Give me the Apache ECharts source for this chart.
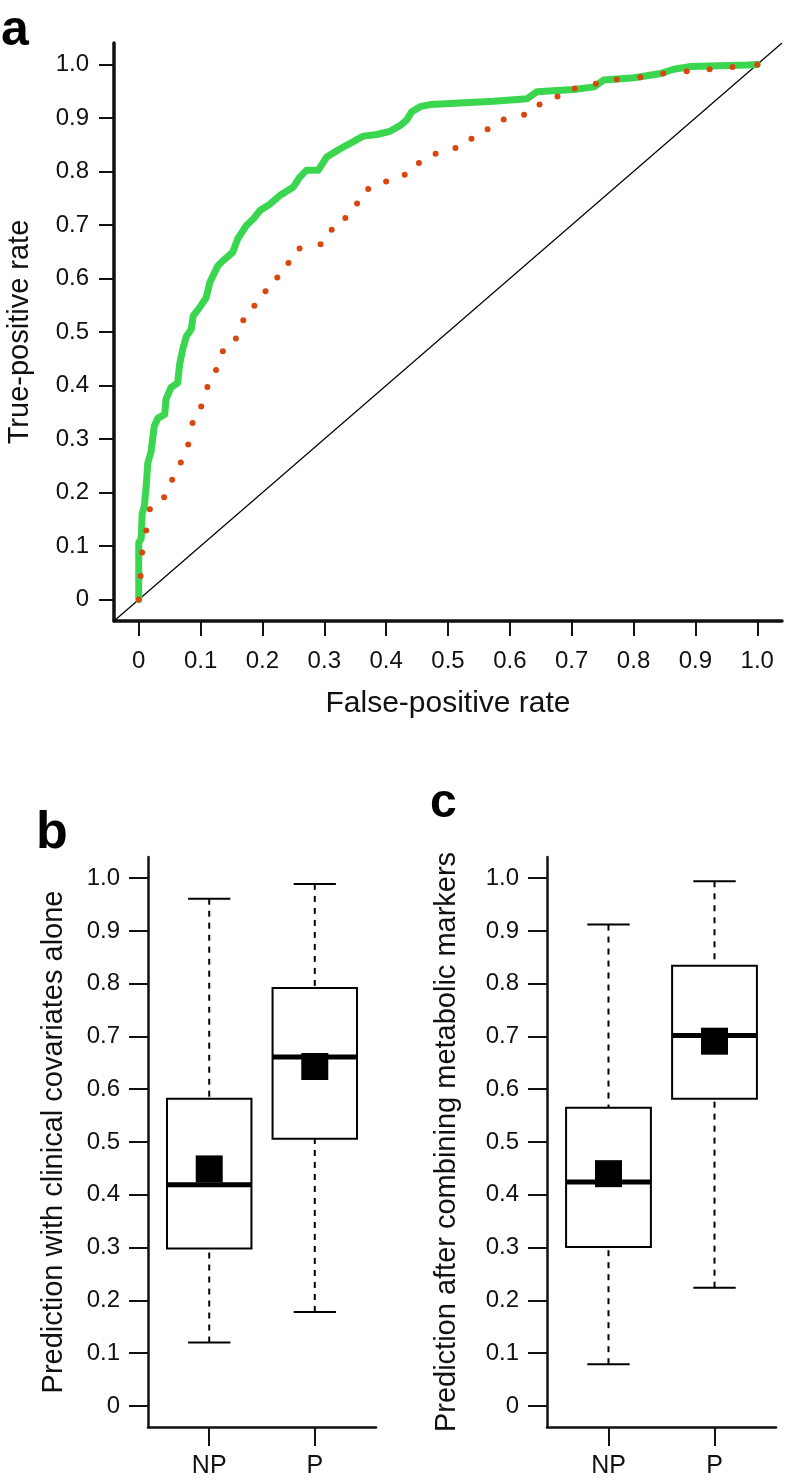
<!DOCTYPE html>
<html>
<head>
<meta charset="utf-8">
<script src="https://cdn.jsdelivr.net/npm/echarts@6/dist/echarts.min.js"></script>
<style>
  html, body { margin: 0; padding: 0; background: #fff; }
  #chart { width: 786px; height: 1482px; }
</style>
</head>
<body>
<div id="chart"></div>
<script>
// ROC (panel a)
const rocTicks = [0, 0.1, 0.2, 0.3, 0.4, 0.5, 0.6, 0.7, 0.8, 0.9, 1.0];
const rocTickLabels = ['0', '0.1', '0.2', '0.3', '0.4', '0.5', '0.6', '0.7', '0.8', '0.9', '1.0'];

const greenFpr = [0, 0, 0.004, 0.0055, 0.009, 0.012, 0.0146, 0.020, 0.025, 0.031, 0.042, 0.044, 0.052, 0.063,
  0.066, 0.071, 0.077, 0.085, 0.088, 0.098, 0.109, 0.115, 0.128, 0.136, 0.152, 0.160, 0.174, 0.185, 0.196,
  0.212, 0.228, 0.250, 0.260, 0.271, 0.290, 0.304, 0.325, 0.341, 0.363, 0.385, 0.406, 0.423, 0.433, 0.441,
  0.455, 0.471, 0.504, 0.574, 0.628, 0.644, 0.703, 0.736, 0.752, 0.801, 0.844, 0.865, 0.893, 0.984, 1];
const greenTpr = [0, 0.106, 0.114, 0.161, 0.174, 0.211, 0.255, 0.277, 0.324, 0.339, 0.346, 0.374, 0.396, 0.405,
  0.439, 0.467, 0.492, 0.505, 0.530, 0.545, 0.564, 0.593, 0.624, 0.633, 0.649, 0.674, 0.699, 0.711, 0.727,
  0.739, 0.755, 0.771, 0.789, 0.802, 0.802, 0.827, 0.842, 0.852, 0.866, 0.869, 0.875, 0.886, 0.896, 0.911,
  0.921, 0.925, 0.927, 0.931, 0.936, 0.949, 0.953, 0.958, 0.971, 0.975, 0.983, 0.991, 0.996, 0.999, 1];

const orangeFpr = [0, 0.003, 0.0055, 0.012, 0.018, 0.041, 0.054, 0.068, 0.080, 0.087, 0.101, 0.111, 0.125,
  0.136, 0.157, 0.169, 0.187, 0.205, 0.224, 0.242, 0.260, 0.294, 0.312, 0.334, 0.353, 0.371, 0.400, 0.430,
  0.453, 0.480, 0.512, 0.538, 0.564, 0.590, 0.623, 0.648, 0.677, 0.705, 0.739, 0.773, 0.811, 0.848, 0.886,
  0.923, 0.960, 1];
const orangeTpr = [0, 0.044, 0.088, 0.129, 0.169, 0.191, 0.224, 0.256, 0.290, 0.330, 0.361, 0.397, 0.429,
  0.464, 0.488, 0.522, 0.549, 0.576, 0.602, 0.629, 0.656, 0.664, 0.691, 0.713, 0.740, 0.767, 0.781, 0.794,
  0.816, 0.833, 0.844, 0.861, 0.879, 0.897, 0.906, 0.925, 0.940, 0.955, 0.964, 0.972, 0.976, 0.983, 0.987,
  0.991, 0.995, 1];

// Box plots (panels b, c): [lower whisker, Q1, median, Q3, upper whisker]
const boxCats = ['NP', 'P'];
const boxTicks = [0, 0.1, 0.2, 0.3, 0.4, 0.5, 0.6, 0.7, 0.8, 0.9, 1.0];
const clinicalStats = [[0.120, 0.298, 0.419, 0.582, 0.961], [0.178, 0.506, 0.661, 0.792, 0.989]];
const clinicalMeans = [0.449, 0.643];
const combinedStats = [[0.079, 0.301, 0.424, 0.565, 0.912], [0.224, 0.582, 0.702, 0.834, 0.994]];
const combinedMeans = [0.440, 0.691];
const combinedOutliers = [[2, 0.137]];

const FONT = '"Liberation Sans", Arial, Helvetica, sans-serif';
const GREEN = '#3bd650';
const ORANGE = '#d9470f';

const zip = (a, b) => a.map((v, i) => [v, b[i]]);
const tickLabel = v => v === 0 ? '0' : v.toFixed(1);

function renderBox(params, api) {
  const x = api.value(0);
  const half = 0.4, capHalf = 0.2;
  const lo = api.coord([x, api.value(1)]);
  const q1 = api.coord([x, api.value(2)]);
  const med = api.coord([x, api.value(3)]);
  const q3 = api.coord([x, api.value(4)]);
  const hi = api.coord([x, api.value(5)]);
  const left = api.coord([x - half, 0])[0];
  const right = api.coord([x + half, 0])[0];
  const capL = api.coord([x - capHalf, 0])[0];
  const capR = api.coord([x + capHalf, 0])[0];
  const dash = { stroke: '#000', lineWidth: 2, lineDash: [6, 6], fill: null };
  const solid = { stroke: '#000', lineWidth: 2, fill: null };
  return {
    type: 'group',
    children: [
      { type: 'line', shape: { x1: hi[0], y1: hi[1], x2: q3[0], y2: q3[1] }, style: dash },
      { type: 'line', shape: { x1: lo[0], y1: lo[1], x2: q1[0], y2: q1[1] }, style: dash },
      { type: 'line', shape: { x1: capL, y1: hi[1], x2: capR, y2: hi[1] }, style: solid },
      { type: 'line', shape: { x1: capL, y1: lo[1], x2: capR, y2: lo[1] }, style: solid },
      { type: 'rect', shape: { x: left, y: q3[1], width: right - left, height: q1[1] - q3[1] },
        style: { stroke: '#000', lineWidth: 2, fill: '#fff' } },
      { type: 'line', shape: { x1: left, y1: med[1], x2: right, y2: med[1] },
        style: { stroke: '#000', lineWidth: 5 } }
    ]
  };
}

function boxYAxis(idx, name, gap) {
  return {
    type: 'value', gridIndex: idx, min: -0.04, max: 1.04,
    name: name, nameLocation: 'middle', nameGap: gap, nameRotate: 90,
    nameTextStyle: { fontFamily: FONT, fontSize: 29, color: '#111' },
    axisLine: { show: true, onZero: false, lineStyle: { color: '#111', width: 2.5 } },
    axisTick: { show: true, length: 19, customValues: boxTicks, lineStyle: { color: '#111', width: 2 } },
    axisLabel: { customValues: boxTicks, formatter: tickLabel, margin: 28,
      fontFamily: FONT, fontSize: 24, color: '#111' },
    splitLine: { show: false }
  };
}

function boxXAxis(idx) {
  return {
    type: 'value', gridIndex: idx, min: 0.42, max: 2.58,
    axisLine: { show: true, onZero: false, lineStyle: { color: '#111', width: 2.5 } },
    axisTick: { show: true, length: 19, customValues: [1, 2], lineStyle: { color: '#111', width: 2 } },
    axisLabel: { customValues: [1, 2], formatter: v => boxCats[Math.round(v) - 1], margin: 27,
      fontFamily: FONT, fontSize: 25, color: '#111' },
    splitLine: { show: false }
  };
}

const chart = echarts.init(document.getElementById('chart'), null, { renderer: 'canvas' });

chart.setOption({
  animation: false,
  backgroundColor: '#fff',
  graphic: [
    { type: 'text', left: 1, top: 6, style: { text: 'a', font: 'bold 50px ' + FONT, fill: '#000' } },
    { type: 'text', left: 36, top: 808, style: { text: 'b', font: 'bold 52px ' + FONT, fill: '#000' } },
    { type: 'text', left: 430, top: 780, style: { text: 'c', font: 'bold 48px ' + FONT, fill: '#000' } }
  ],
  grid: [
    { left: 114, top: 43, width: 668, height: 578, outerBoundsMode: 'none' },
    { left: 148, top: 857, width: 228, height: 570, outerBoundsMode: 'none' },
    { left: 547, top: 857, width: 229, height: 570, outerBoundsMode: 'none' }
  ],
  xAxis: [
    {
      type: 'value', gridIndex: 0, min: -0.04, max: 1.04,
      name: 'False-positive rate', nameLocation: 'middle', nameGap: 68,
      nameTextStyle: { fontFamily: FONT, fontSize: 30, color: '#111' },
      axisLine: { show: true, onZero: false, lineStyle: { color: '#111', width: 3.5 } },
      axisTick: { show: true, length: 15, customValues: rocTicks, lineStyle: { color: '#111', width: 2 } },
      axisLabel: { customValues: rocTicks, formatter: v => rocTickLabels[Math.round(v * 10)], margin: 28,
        fontFamily: FONT, fontSize: 24, color: '#111' },
      splitLine: { show: false }
    },
    boxXAxis(1),
    boxXAxis(2)
  ],
  yAxis: [
    {
      type: 'value', gridIndex: 0, min: -0.04, max: 1.04,
      name: 'True-positive rate', nameLocation: 'middle', nameGap: 80, nameRotate: 90,
      nameTextStyle: { fontFamily: FONT, fontSize: 29, color: '#111' },
      axisLine: { show: true, onZero: false, lineStyle: { color: '#111', width: 3.5 } },
      axisTick: { show: true, length: 15, customValues: rocTicks, lineStyle: { color: '#111', width: 2 } },
      axisLabel: { customValues: rocTicks, formatter: v => rocTickLabels[Math.round(v * 10)], margin: 25,
        fontFamily: FONT, fontSize: 24, color: '#111' },
      splitLine: { show: false }
    },
    boxYAxis(1, 'Prediction with clinical covariates alone', 80),
    boxYAxis(2, 'Prediction after combining metabolic markers', 86)
  ],
  series: [
    {
      type: 'line', xAxisIndex: 0, yAxisIndex: 0, data: [[-0.04, -0.04], [1.04, 1.04]],
      showSymbol: false, lineStyle: { color: '#000', width: 1.2 }, z: 1
    },
    {
      type: 'line', xAxisIndex: 0, yAxisIndex: 0, data: zip(greenFpr, greenTpr),
      showSymbol: false, lineStyle: { color: GREEN, width: 7, join: 'round', cap: 'round' }, z: 2
    },
    {
      type: 'scatter', xAxisIndex: 0, yAxisIndex: 0, data: zip(orangeFpr, orangeTpr),
      symbolSize: 6, itemStyle: { color: ORANGE, opacity: 1 }, z: 3
    },
    {
      type: 'custom', xAxisIndex: 1, yAxisIndex: 1, renderItem: renderBox,
      encode: { x: 0, y: [1, 2, 3, 4, 5] },
      data: clinicalStats.map((s, i) => [i + 1, ...s]), z: 2
    },
    {
      type: 'scatter', xAxisIndex: 1, yAxisIndex: 1, symbol: 'rect', symbolSize: 27,
      data: clinicalMeans.map((m, i) => [i + 1, m]), itemStyle: { color: '#000', opacity: 1 }, z: 3
    },
    {
      type: 'custom', xAxisIndex: 2, yAxisIndex: 2, renderItem: renderBox,
      encode: { x: 0, y: [1, 2, 3, 4, 5] },
      data: combinedStats.map((s, i) => [i + 1, ...s]), z: 2
    },
    {
      type: 'scatter', xAxisIndex: 2, yAxisIndex: 2, symbol: 'rect', symbolSize: 27,
      data: combinedMeans.map((m, i) => [i + 1, m]), itemStyle: { color: '#000', opacity: 1 }, z: 3
    },
    {
      type: 'scatter', xAxisIndex: 2, yAxisIndex: 2, symbol: 'emptyCircle', symbolSize: 12,
      data: combinedOutliers, itemStyle: { color: '#fff', borderColor: '#000', borderWidth: 1.8, opacity: 1 }, z: 3
    }
  ]
});
</script>
</body>
</html>
